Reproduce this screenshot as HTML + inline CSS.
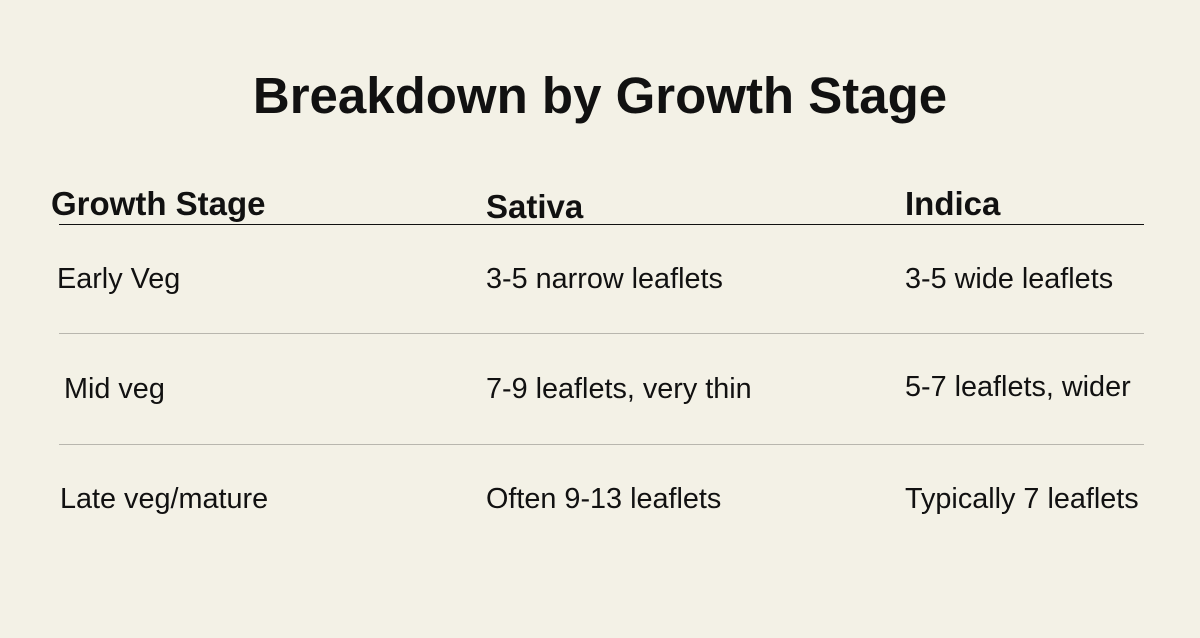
<!DOCTYPE html>
<html><head><meta charset="utf-8"><style>
html,body{margin:0;padding:0;}
body{width:1200px;height:638px;background:#f3f1e6;position:relative;overflow:hidden;font-family:"Liberation Sans",sans-serif;color:#111;}
.t{position:absolute;line-height:1;white-space:nowrap;}
.title{font-size:51px;font-weight:bold;left:0;width:1200px;text-align:center;top:70px;}
.h{font-size:33px;font-weight:bold;}
.c{font-size:28.8px;}
.rule{position:absolute;left:59px;width:1085px;height:1px;}
</style></head><body>
<div class="t title">Breakdown by Growth Stage</div>
<div class="t h" style="left:51px;top:187px">Growth Stage</div>
<div class="t h" style="left:486px;top:190px">Sativa</div>
<div class="t h" style="left:905px;top:187px">Indica</div>
<div class="rule" style="top:224px;background:#111"></div>

<div class="t c" style="left:57px;top:265px">Early Veg</div>
<div class="t c" style="left:486px;top:265px">3-5 narrow leaflets</div>
<div class="t c" style="left:905px;top:265px">3-5 wide leaflets</div>
<div class="rule" style="top:333px;background:#b8b6ae"></div>

<div class="t c" style="left:64px;top:375px">Mid veg</div>
<div class="t c" style="left:486px;top:375px">7-9 leaflets, very thin</div>
<div class="t c" style="left:905px;top:373px">5-7 leaflets, wider</div>
<div class="rule" style="top:444px;background:#b8b6ae"></div>

<div class="t c" style="left:60px;top:485px">Late veg/mature</div>
<div class="t c" style="left:486px;top:485px">Often 9-13 leaflets</div>
<div class="t c" style="left:905px;top:485px">Typically 7 leaflets</div>
</body></html>
